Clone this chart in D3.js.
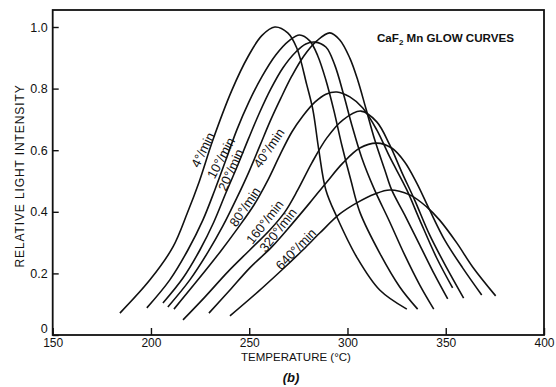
<!DOCTYPE html>
<html>
<head>
<meta charset="utf-8">
<script src="https://cdn.jsdelivr.net/npm/d3@7"></script>
<style>
  body { margin: 0; background: #fff; }
  svg { display: block; }
  text { font-family: "Liberation Sans", Arial, sans-serif; fill: #111; }
</style>
</head>
<body>
<svg width="556" height="387"></svg>
<script>
// axis ticks
const xTicks = [150, 200, 250, 300, 350, 400];
const yTicks = [0, 0.2, 0.4, 0.6, 0.8, 1.0];
const yTickLabels = ['0', '0.2', '0.4', '0.6', '0.8', '1.0'];

// heating rates (labels on the curves)
const rates = ['4°/min', '10°/min', '20°/min', '40°/min', '80°/min', '160°/min', '320°/min', '640°/min'];

// glow curves: [temperature °C, relative intensity]
const curve4 = [[184.2,.071],[199.5,.179],[211.2,.286],[218.5,.396],[224.5,.497],[231.5,.633],[241.2,.795],[249.5,.905],[256.4,.972],[263,1],[269.6,.981],[274.2,.932],[279.3,.812],[282.4,.731],[285.4,.601],[289,.471],[294.6,.383],[304.7,.253],[316.4,.146],[330.2,.084]];
const curve10 = [[197.9,.088],[209.6,.179],[218.8,.276],[226.4,.373],[232.5,.471],[238.1,.568],[243.7,.666],[249.8,.756],[256.4,.838],[263.5,.909],[270.2,.955],[275.7,.974],[280.8,.955],[284.9,.906],[289,.828],[293,.731],[297.1,.617],[301.7,.503],[306.3,.399],[316.4,.266],[326.6,.156],[335.7,.084]];
const curve20 = [[206.1,.104],[216.3,.185],[224.9,.276],[232,.367],[238.1,.461],[244.2,.552],[249.8,.64],[255.4,.724],[261,.799],[267.1,.867],[273.7,.919],[278.8,.945],[283.4,.951],[289,.935],[293.5,.877],[298.1,.779],[302.2,.682],[307.3,.575],[313.4,.477],[321.5,.367],[329.1,.26],[336.8,.162],[343.9,.084]];
const curve40 = [[208.6,.091],[219.8,.179],[229,.269],[236.6,.354],[243.7,.445],[249.8,.529],[255.4,.614],[260.5,.692],[266.1,.769],[271.7,.841],[277.8,.906],[284.4,.955],[291,.981],[296.1,.958],[301.2,.899],[305.2,.828],[309.3,.737],[313.9,.633],[319,.536],[322.5,.471],[329.1,.39],[336.8,.292],[344.4,.195],[351,.117]];
const curve80 = [[211.7,.084],[223.9,.179],[235.1,.269],[244.2,.347],[252.4,.422],[259.5,.503],[265.6,.584],[271.7,.659],[277.3,.711],[283.4,.756],[289,.782],[294.6,.789],[301.2,.773],[307.8,.737],[314.9,.666],[321.5,.578],[330.2,.471],[336.8,.373],[345.4,.25],[353.5,.153]];
const curve160 = [[216.3,.049],[227.4,.123],[239.1,.205],[250.3,.276],[260.5,.341],[268.1,.399],[274.7,.471],[281.8,.558],[289.5,.64],[297.6,.698],[306.8,.727],[314.9,.692],[321.5,.617],[327.6,.529],[334.2,.438],[341.8,.325],[350.5,.218],[359.1,.12]];
const curve320 = [[229.5,.071],[240.2,.146],[250.3,.218],[261.5,.286],[271.7,.36],[280.8,.429],[289.5,.497],[297.6,.558],[306.3,.607],[314.9,.623],[322.5,.607],[329.1,.562],[335.2,.494],[341.8,.406],[349.5,.308],[358.6,.218],[368.3,.13]];
const curve640 = [[240.2,.062],[254.4,.14],[266.6,.211],[277.3,.276],[285.9,.331],[296.1,.393],[304.7,.429],[313.9,.458],[321.5,.471],[331.7,.455],[340.3,.416],[346.9,.373],[355.6,.299],[363.7,.221],[375.4,.127]];

const curves = [curve4, curve10, curve20, curve40, curve80, curve160, curve320, curve640];

const svg = d3.select('svg');
const x = d3.scaleLinear().domain([150, 400]).range([52.7, 544]);
const y = d3.scaleLinear().domain([0, 1]).range([335, 27]);

// frame
svg.append('rect')
  .attr('x', x(150)).attr('y', 10)
  .attr('width', x(400) - x(150)).attr('height', y(0) - 10)
  .attr('fill', 'none').attr('stroke', '#111').attr('stroke-width', 1.8);

// x axis
const gx = svg.append('g')
  .attr('transform', `translate(0,${y(0)})`)
  .call(d3.axisBottom(x).tickValues(xTicks).tickSize(-7).tickPadding(3).tickFormat(d3.format('d')));
gx.select('.domain').remove();
gx.selectAll('line').attr('stroke', '#111').attr('stroke-width', 1.4);
gx.selectAll('text').attr('font-size', 12).attr('fill', '#111');

// y axis
const gy = svg.append('g')
  .attr('transform', `translate(${x(150)},0)`)
  .call(d3.axisLeft(y).tickValues(yTicks).tickSize(-6).tickPadding(5).tickFormat((d, i) => yTickLabels[i]));
gy.select('.domain').remove();
gy.selectAll('line').attr('stroke', '#111').attr('stroke-width', 1.4);
gy.selectAll('text').attr('font-size', 12.5).attr('fill', '#111');
// the zero sits in the corner, nudge it up off the 150
gy.selectAll('text').filter(d => d === 0).attr('dy', '-0.2em');

// curves
const line = d3.line()
  .x(d => x(d[0]))
  .y(d => y(d[1]))
  .curve(d3.curveCatmullRom.alpha(0.5));

svg.append('g')
  .selectAll('path')
  .data(curves)
  .enter()
  .append('path')
  .attr('d', line)
  .attr('fill', 'none')
  .attr('stroke', '#111')
  .attr('stroke-width', 1.6);

// labels along curves: [temp, intensity, angle]
const labelSpots = [[226.4,.601,-64],[235.6,.575,-62],[240.6,.536,-66],[260,.607,-56],[247.8,.416,-56],[257.9,.367,-52],[264.6,.341,-52],[273.7,.279,-46]];
svg.append('g')
  .selectAll('text')
  .data(rates)
  .enter()
  .append('text')
  .attr('transform', (d, i) => `translate(${x(labelSpots[i][0])},${y(labelSpots[i][1])}) rotate(${labelSpots[i][2]})`)
  .attr('text-anchor', 'middle')
  .attr('dy', '0.35em')
  .attr('font-size', 13)
  .text(d => d);

// title
const title = svg.append('text')
  .attr('x', 377).attr('y', 42)
  .attr('font-size', 11.6)
  .attr('font-weight', 'bold');
title.append('tspan').text('CaF');
title.append('tspan').attr('font-size', 8).attr('dy', 3).text('2');
title.append('tspan').attr('dy', -3).text(' Mn GLOW CURVES');

// axis titles
svg.append('text')
  .attr('transform', `translate(24,176) rotate(-90)`)
  .attr('text-anchor', 'middle')
  .attr('font-size', 12)
  .attr('letter-spacing', 0.9)
  .text('RELATIVE LIGHT INTENSITY');

svg.append('text')
  .attr('x', 296).attr('y', 361)
  .attr('text-anchor', 'middle')
  .attr('font-size', 11.5)
  .text('TEMPERATURE (°C)');

svg.append('text')
  .attr('x', 291).attr('y', 382)
  .attr('text-anchor', 'middle')
  .attr('font-family', '"Liberation Serif", serif')
  .attr('font-style', 'italic')
  .attr('font-weight', 'bold')
  .attr('font-size', 13)
  .text('(b)');
</script>
</body>
</html>
